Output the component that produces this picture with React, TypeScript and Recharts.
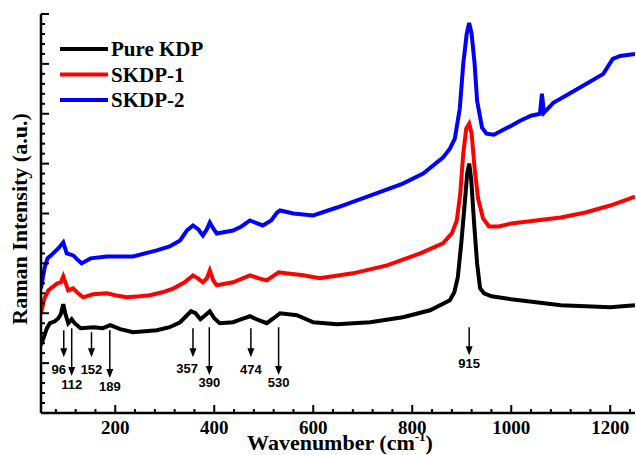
import { Customized, Line, LineChart, ReferenceDot, ReferenceLine, XAxis, YAxis } from "recharts";

// Pure KDP (black)
const kdpX = [50, 55, 62, 68, 78, 85, 90, 95, 99, 105, 112, 118, 130, 157, 175, 190, 210, 236, 260, 284, 310, 331, 345, 353, 362, 372, 382, 391, 400, 411, 438, 455, 472, 490, 506, 520, 533, 567, 600, 648, 715, 781, 836, 876, 885, 892, 899, 906, 911, 915, 919, 925, 931, 937, 945, 960, 1000, 1050, 1100, 1150, 1200, 1250];
const kdpY = [1.36, 1.5, 1.7, 1.8, 1.84, 1.9, 1.98, 2.18, 2.0, 1.8, 1.88, 1.8, 1.7, 1.72, 1.7, 1.76, 1.68, 1.62, 1.64, 1.66, 1.72, 1.82, 1.96, 2.04, 2.0, 1.88, 1.96, 2.04, 1.9, 1.8, 1.82, 1.88, 1.94, 1.86, 1.8, 1.9, 2.0, 1.96, 1.82, 1.78, 1.82, 1.92, 2.06, 2.26, 2.42, 2.72, 3.4, 4.2, 4.8, 5.0, 4.7, 3.8, 3.0, 2.5, 2.4, 2.34, 2.28, 2.22, 2.16, 2.14, 2.12, 2.16];

// SKDP-1 (red)
const skdp1X = [50, 57, 65, 75, 83, 90, 95, 100, 105, 115, 125, 135, 155, 183, 200, 223, 250, 270, 295, 318, 340, 357, 367, 377, 385, 391, 398, 405, 438, 472, 490, 506, 530, 545, 580, 613, 680, 749, 816, 862, 880, 890, 897, 903, 909, 915, 920, 926, 933, 943, 955, 975, 1000, 1050, 1100, 1150, 1200, 1250];
const skdp1Y = [2.0, 2.3, 2.46, 2.54, 2.6, 2.62, 2.74, 2.6, 2.46, 2.5, 2.4, 2.32, 2.38, 2.4, 2.36, 2.32, 2.34, 2.36, 2.42, 2.5, 2.62, 2.76, 2.7, 2.62, 2.7, 2.86, 2.66, 2.56, 2.62, 2.76, 2.7, 2.66, 2.82, 2.8, 2.76, 2.7, 2.8, 2.96, 3.2, 3.4, 3.6, 3.86, 4.4, 5.2, 5.7, 5.8, 5.6, 4.9, 4.3, 3.9, 3.74, 3.74, 3.8, 3.86, 3.92, 4.02, 4.16, 4.34];

// SKDP-2 (blue)
const skdp2X = [50, 57, 63, 70, 85, 95, 102, 115, 125, 132, 150, 183, 236, 284, 310, 331, 345, 357, 368, 377, 385, 391, 398, 405, 438, 455, 472, 498, 515, 527, 533, 560, 600, 648, 715, 781, 822, 862, 876, 886, 896, 903, 910, 915, 920, 926, 931, 941, 950, 965, 1000, 1018, 1040, 1058, 1062, 1066, 1085, 1110, 1152, 1186, 1205, 1220, 1250];
const skdp2Y = [2.5, 2.9, 3.1, 3.16, 3.3, 3.42, 3.2, 3.16, 3.06, 3.0, 3.1, 3.14, 3.14, 3.26, 3.34, 3.46, 3.66, 3.76, 3.68, 3.56, 3.68, 3.82, 3.7, 3.6, 3.66, 3.74, 3.86, 3.76, 3.86, 4.02, 4.06, 4.0, 3.96, 4.12, 4.36, 4.6, 4.8, 5.12, 5.3, 5.5, 6.1, 7.0, 7.6, 7.82, 7.6, 7.0, 6.26, 5.72, 5.6, 5.58, 5.76, 5.86, 5.96, 6.0, 6.4, 6.02, 6.22, 6.36, 6.6, 6.8, 7.1, 7.16, 7.2];

// peak markers
const peakLabels = ["96", "112", "152", "189", "357", "390", "474", "530", "915"];
const peakX = [96, 112, 152, 189, 357, 390, 474, 530, 915];
const arrowTop = [1.66, 1.7, 1.62, 1.66, 1.7, 1.72, 1.7, 1.72, 1.72];
const arrowTip = [1.12, 0.74, 1.12, 0.7, 1.12, 0.76, 1.12, 0.76, 1.16];
const labelX = [86, 112, 152, 189, 345, 390, 474, 530, 915];
const labelY = [0.88, 0.58, 0.88, 0.54, 0.9, 0.62, 0.88, 0.62, 1.0];

const xTicks = [80, 120, 160, 200, 240, 280, 320, 360, 400, 440, 480, 520, 560, 600, 640, 680, 720, 760, 800, 840, 880, 920, 960, 1000, 1040, 1080, 1120, 1160, 1200, 1240];
const xLabels = [200, 400, 600, 800, 1000, 1200];
const yTicks = Array.from({ length: 41 }, (_, i) => i / 5);

const seriesNames = ["Pure KDP", "SKDP-1", "SKDP-2"];
const seriesColors = ["#000000", "#ff0000", "#0000ff"];

const toPoints = (xs: number[], ys: number[]) => xs.map((x, i) => ({ x, y: ys[i] }));
const kdpData = toPoints(kdpX, kdpY);
const skdp1Data = toPoints(skdp1X, skdp1Y);
const skdp2Data = toPoints(skdp2X, skdp2Y);

const serif = "'Liberation Serif', 'Times New Roman', serif";
const sans = "'Liberation Sans', Arial, sans-serif";

const isMajorY = (v: number) => Math.abs(v - Math.round(v)) < 1e-6;

const BottomTick = ({ x, y, payload }: any) => {
    const major = xLabels.includes(payload.value);
    return <g>
        <line x1={x} x2={x} y1={y} y2={y - (major ? 8 : 4)} stroke="#000" strokeWidth={2} />
        {major && <text x={x} y={y + 14} textAnchor="middle" dominantBaseline="central"
            fontFamily={serif} fontWeight="bold" fontSize={19} fill="#000">{payload.value}</text>}
    </g>
}

const TopTick = ({ x, y, payload }: any) => {
    const major = xLabels.includes(payload.value);
    return <line x1={x} x2={x} y1={y} y2={y + (major ? 8 : 4)} stroke="#000" strokeWidth={2} />
}

const LeftTick = ({ x, y, payload }: any) =>
    <line x1={x} x2={x + (isMajorY(payload.value) ? 8 : 4)} y1={y} y2={y} stroke="#000" strokeWidth={2} />

const RightTick = ({ x, y, payload }: any) =>
    <line x1={x} x2={x - (isMajorY(payload.value) ? 8 : 4)} y1={y} y2={y} stroke="#000" strokeWidth={2} />

const arrowShape = (props: any) => {
    const { x1, y1, x2, y2 } = props;
    return <g>
        <line x1={x1} y1={y1} x2={x2} y2={y2 - 6} stroke="#000" strokeWidth={1.5} />
        <polygon points={`${x2 - 3.5},${y2 - 9} ${x2 + 3.5},${y2 - 9} ${x2},${y2}`} fill="#000" />
    </g>
}

const Decorations = () => <g>
    {seriesNames.map((name, i) => <g key={name}>
        <line x1={60} x2={108} y1={49 + i * 25.5} y2={49 + i * 25.5} stroke={seriesColors[i]} strokeWidth={4} />
        <text x={111} y={49 + i * 25.5} dominantBaseline="central" fontFamily={serif} fontWeight="bold" fontSize={21} fill="#000">{name}</text>
    </g>)}
    <text x={340} y={450} textAnchor="middle" fontFamily={serif} fontWeight="bold" fontSize={22} fill="#000">
        Wavenumber (cm<tspan dy={-9} fontSize={13}>-1</tspan><tspan dy={9}>)</tspan>
    </text>
    <text x={27} y={219} textAnchor="middle" transform="rotate(-90 27 219)" fontFamily={serif} fontWeight="bold" fontSize={22} fill="#000">
        Raman Intensity (a.u.)
    </text>
</g>

export default function App() {
    return <div style={{ position: "absolute", left: 0, top: 0, background: "#fff" }}>
        <LineChart width={636} height={455} margin={{ top: 14, right: 1, bottom: 0, left: 0 }}>
            <XAxis xAxisId="b" type="number" dataKey="x" domain={[50, 1250]} ticks={xTicks} interval={0}
                height={42} tickSize={0} tickMargin={0} tick={BottomTick} allowDataOverflow
                axisLine={{ stroke: "#000", strokeWidth: 2.5 }} />
            <XAxis xAxisId="t" orientation="top" type="number" dataKey="x" domain={[50, 1250]} ticks={xTicks} interval={0}
                height={0} tickSize={0} tickMargin={0} tick={TopTick} allowDataOverflow
                axisLine={{ stroke: "#000", strokeWidth: 2.5 }} />
            <YAxis yAxisId="l" type="number" domain={[0, 8]} ticks={yTicks} interval={0} width={41}
                tickSize={0} tickMargin={0} tick={LeftTick} allowDataOverflow
                axisLine={{ stroke: "#000", strokeWidth: 2.5 }} />
            <YAxis yAxisId="r" orientation="right" type="number" domain={[0, 8]} ticks={yTicks} interval={0} width={0}
                tickSize={0} tickMargin={0} tick={RightTick} allowDataOverflow
                axisLine={{ stroke: "#000", strokeWidth: 2.5 }} />
            <Line xAxisId="b" yAxisId="l" data={kdpData} dataKey="y" name={seriesNames[0]} stroke={seriesColors[0]}
                strokeWidth={4} dot={false} type="linear" isAnimationActive={false} />
            <Line xAxisId="b" yAxisId="l" data={skdp1Data} dataKey="y" name={seriesNames[1]} stroke={seriesColors[1]}
                strokeWidth={4} dot={false} type="linear" isAnimationActive={false} />
            <Line xAxisId="b" yAxisId="l" data={skdp2Data} dataKey="y" name={seriesNames[2]} stroke={seriesColors[2]}
                strokeWidth={4} dot={false} type="linear" isAnimationActive={false} />
            {peakX.map((px, i) => <ReferenceLine key={"a" + i} xAxisId="b" yAxisId="l"
                segment={[{ x: px, y: arrowTop[i] }, { x: px, y: arrowTip[i] }]} shape={arrowShape} />)}
            {peakLabels.map((lab, i) => <ReferenceDot key={"l" + i} xAxisId="b" yAxisId="l" x={labelX[i]} y={labelY[i]}
                shape={(p: any) => <text x={p.cx} y={p.cy} textAnchor="middle" dominantBaseline="central"
                    fontFamily={sans} fontWeight="bold" fontSize={13} fill="#000">{lab}</text>} />)}
            <Customized component={Decorations} />
        </LineChart>
    </div>
}
